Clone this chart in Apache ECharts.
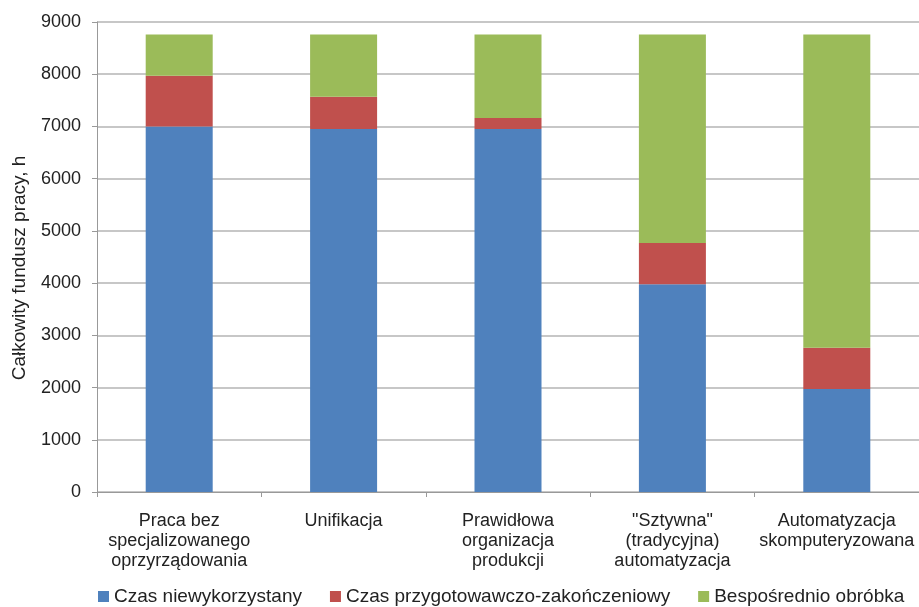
<!DOCTYPE html>
<html>
<head>
<meta charset="utf-8">
<script src="https://cdn.jsdelivr.net/npm/echarts@6/dist/echarts.min.js"></script>
<style>
  html, body { margin: 0; padding: 0; background: #fff; }
  #chart { width: 919px; height: 607px; }
</style>
</head>
<body>
<div id="chart"></div>
<script>
// kategorie i wartosci (h)
var categories = [
  'Praca bez\nspecjalizowanego\noprzyrządowania',
  'Unifikacja',
  'Prawidłowa\norganizacja\nprodukcji',
  '"Sztywna"\n(tradycyjna)\nautomatyzacja',
  'Automatyzacja\nskomputeryzowana'
];
var niewykorzystany = [7000, 6950, 6950, 3980, 1970];
var przygotowawczy = [970, 620, 210, 790, 790];
var obrobka = [790, 1190, 1600, 3990, 6000];

var chart = echarts.init(document.getElementById('chart'));
var font = 'Liberation Sans, Arial, sans-serif';

chart.setOption({
  animation: false,
  textStyle: { fontFamily: font },
  grid: { left: 97, top: 22, right: 0, bottom: 115, outerBoundsMode: 'none', containLabel: false },
  legend: {
    bottom: -4,
    left: 93,
    itemWidth: 11,
    itemHeight: 11,
    itemGap: 28,
    icon: 'rect',
    textStyle: { fontSize: 19, color: '#222', fontFamily: font },
    data: ['Czas niewykorzystany', 'Czas przygotowawczo-zakończeniowy', 'Bespośrednio obróbka']
  },
  xAxis: {
    type: 'category',
    data: categories,
    axisLine: { lineStyle: { color: '#999' } },
    axisTick: { show: true, length: 5, lineStyle: { color: '#999' } },
    axisLabel: { fontSize: 18, color: '#222', lineHeight: 20, margin: 19, interval: 0 }
  },
  yAxis: {
    type: 'value',
    min: 0,
    max: 9000,
    interval: 1000,
    name: 'Całkowity fundusz pracy, h',
    nameLocation: 'middle',
    nameGap: 68,
    nameTextStyle: { fontSize: 19, color: '#222', padding: [0, 22, 0, 0] },
    axisLine: { show: true, lineStyle: { color: '#999' } },
    axisTick: { show: true, length: 5, lineStyle: { color: '#999' } },
    axisLabel: { fontSize: 18, color: '#222', margin: 16, formatter: function (v) { return String(v); } },
    splitLine: { lineStyle: { color: '#b5b5b5', width: 1.5 } }
  },
  series: [
    {
      name: 'Czas niewykorzystany', type: 'bar', stack: 'a', barWidth: 67,
      itemStyle: { color: '#4f81bd' }, data: niewykorzystany
    },
    {
      name: 'Czas przygotowawczo-zakończeniowy', type: 'bar', stack: 'a', barWidth: 67,
      itemStyle: { color: '#c0504d' }, data: przygotowawczy
    },
    {
      name: 'Bespośrednio obróbka', type: 'bar', stack: 'a', barWidth: 67,
      itemStyle: { color: '#9bbb59' }, data: obrobka
    }
  ]
});
</script>
</body>
</html>
